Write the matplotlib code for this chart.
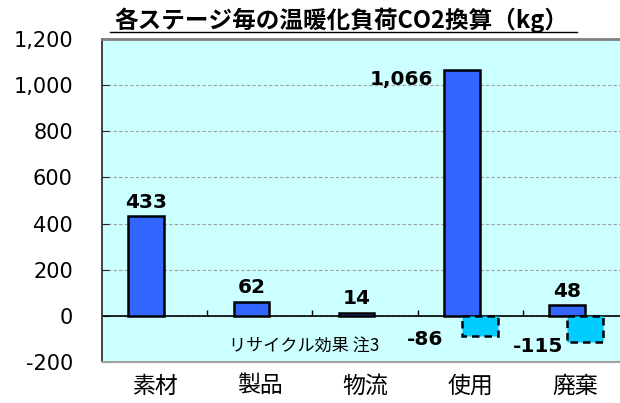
import matplotlib.pyplot as plt
import numpy as np
from matplotlib.ticker import FuncFormatter
from matplotlib.lines import Line2D

plt.rcParams['font.family'] = ['DejaVu Sans', 'Noto Sans CJK JP']
jp = ['Noto Sans CJK JP', 'DejaVu Sans']

# data
stages = ['素材', '製品', '物流', '使用', '廃棄']
load = [433, 62, 14, 1066, 48]
recycle = [0, 0, 0, -86, -115]
y_ticks = [-200, 0, 200, 400, 600, 800, 1000, 1200]

title = '各ステージ毎の温暖化負荷CO2換算（kg）'
note = 'リサイクル効果 注3'

fig = plt.figure(figsize=(6.2, 4.03), dpi=100)
# plot area runs past the right edge of the picture (cropped chart)
ax = fig.add_axes([102 / 620, 41 / 403, 526 / 620, 323 / 403])
ax.set_facecolor('#CCFFFF')

x = np.arange(len(stages))
rec = np.array(recycle)
w = 0.34

ax.bar(x - 0.08, load, w, color='#3366FF', edgecolor='black', linewidth=1.8, zorder=3)
m = rec != 0
ax.bar(x[m] + 0.09, rec[m], w, color='#00CCFF', edgecolor='black', linewidth=1.8,
       linestyle=(0, (3, 2)), zorder=3)

ax.set_xlim(-0.5, len(stages) - 0.5)
ax.set_ylim(y_ticks[0], y_ticks[-1])
ax.set_yticks(y_ticks)
ax.yaxis.set_major_formatter(FuncFormatter(lambda v, p: f'{v:,.0f}'))
ax.tick_params(axis='y', direction='in', length=5, pad=21, labelsize=15, colors='#222222',
               labelcolor='black')
ax.set_xticks(x)
ax.set_xticklabels(stages, fontfamily=jp, fontsize=16.5)
ax.tick_params(axis='x', length=0, pad=9)

ax.grid(axis='y', linestyle=(0, (3, 2)), color='#A0A0A0', linewidth=0.8, zorder=1)
ax.set_axisbelow(True)

# zero line with category boundary ticks
ax.axhline(0, color='black', linewidth=1.2, zorder=2)
ax.vlines(x[:-1] + 0.5, 0, 25, color='black', linewidth=1, zorder=2)

ax.spines['top'].set_color('#808080')
ax.spines['top'].set_linewidth(2)
ax.spines['bottom'].set_color('#A0A0A0')
ax.spines['bottom'].set_linewidth(1.5)
ax.spines['left'].set_color('#333333')
ax.spines['left'].set_linewidth(1.3)
ax.spines['right'].set_visible(False)

# value labels
for i, v in enumerate(load):
    if i == 3:
        ax.annotate(f'{v:,}', (x[i] - 0.08 - w / 2, v), xytext=(-8, -7),
                    textcoords='offset points', ha='right', va='center',
                    fontsize=14.5, fontweight='bold', zorder=4)
    else:
        ax.annotate(f'{v:,}', (x[i] - 0.08, v), xytext=(0, 3),
                    textcoords='offset points', ha='center', va='bottom',
                    fontsize=14.5, fontweight='bold', zorder=4)

neg_offsets = {3: (-39, -3), 4: (-34, -3)}
for i in x[m]:
    ax.annotate(f'{rec[i]:,}', (x[i] + 0.09, rec[i]), xytext=neg_offsets[i],
                textcoords='offset points', ha='center', va='center',
                fontsize=14.5, fontweight='bold', zorder=4)

ax.text(1.42, -134, note, ha='center', va='center', fontsize=12.3, fontfamily=jp, zorder=4)

fig.text(341 / 620, 1 - 20 / 403, title, ha='center', va='center', fontsize=17,
         fontweight='bold', fontfamily=jp)
fig.add_artist(Line2D([110 / 620, 577 / 620], [1 - 32 / 403] * 2, color='black', linewidth=1))

fig.savefig('out.png', dpi=100)
